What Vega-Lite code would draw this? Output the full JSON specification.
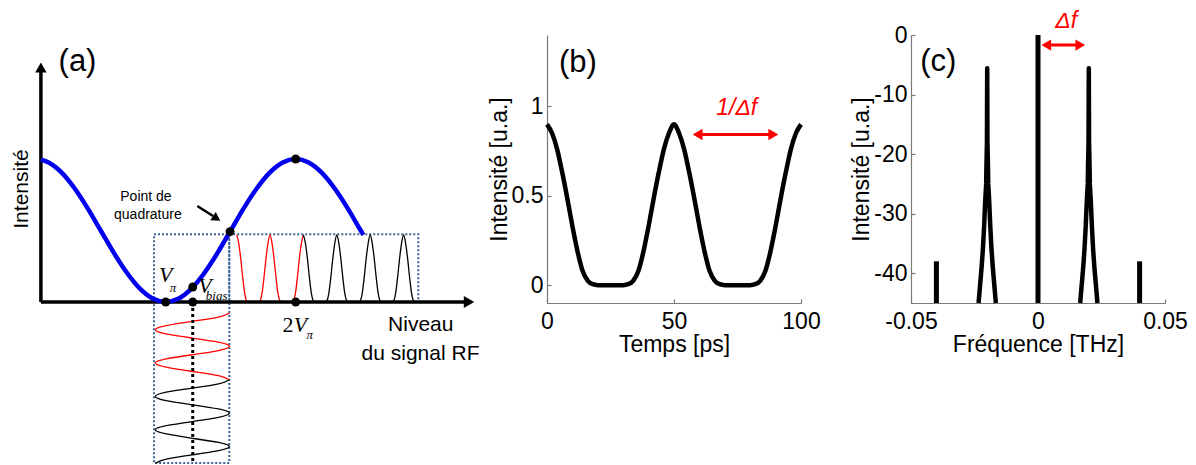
{
  "$schema": "https://vega.github.io/schema/vega-lite/v6.json",
  "autosize": {"type": "none"},
  "padding": {"left": 0, "top": 35, "right": 1196, "bottom": 430},
  "background": "white",
  "config": {
    "view": {"stroke": null},
    "font": "Liberation Sans",
    "axis": {
      "domainColor": "#7a7a7a", "domainWidth": 1.2,
      "tickColor": "#7a7a7a", "tickSize": -4, "tickWidth": 1.2,
      "labelFontSize": 23, "titleFontSize": 23, "titleFontWeight": "normal",
      "labelColor": "black", "titleColor": "black",
      "labelFont": "Liberation Sans", "titleFont": "Liberation Sans",
      "grid": false, "labelFlush": false, "labelOverlap": false
    },
    "axisX": {"labelPadding": 11, "titlePadding": 0},
    "axisY": {"labelPadding": 8, "titlePadding": 0}
  },
  "datasets": {
    "boxesA": [
      {"v": 0.91, "v2": 1.489, "I": -1.126, "I2": 0.473},
      {"v": 1.489, "v2": 2.943, "I": 0, "I2": 0.473}
    ],
    "axesA": [
      {"v": 0.04, "I": 0, "v2": 3.33, "I2": 0},
      {"v": 0.04, "I": 0, "v2": 0.04, "I2": 1.63}
    ],
    "curveA": [
      {"v": 0.04, "I": 0.996}, {"v": 0.1, "I": 0.976}, {"v": 0.2, "I": 0.905}, {"v": 0.3, "I": 0.794},
      {"v": 0.4, "I": 0.655}, {"v": 0.5, "I": 0.5}, {"v": 0.6, "I": 0.345}, {"v": 0.7, "I": 0.206},
      {"v": 0.8, "I": 0.095}, {"v": 0.9, "I": 0.024}, {"v": 1.0, "I": 0}, {"v": 1.1, "I": 0.024},
      {"v": 1.2, "I": 0.095}, {"v": 1.3, "I": 0.206}, {"v": 1.4, "I": 0.345}, {"v": 1.5, "I": 0.5},
      {"v": 1.6, "I": 0.655}, {"v": 1.7, "I": 0.794}, {"v": 1.8, "I": 0.905}, {"v": 1.9, "I": 0.976},
      {"v": 2.0, "I": 1}, {"v": 2.1, "I": 0.976}, {"v": 2.2, "I": 0.905}, {"v": 2.3, "I": 0.794},
      {"v": 2.4, "I": 0.655}, {"v": 2.5, "I": 0.5}, {"v": 2.52, "I": 0.469}
    ],
    "rfA": [
      {"k": 0, "v": 1.49, "I": -0.077, "part": "r"},
      {"k": 1, "v": 1.4065, "I": -0.106, "part": "r"},
      {"k": 2, "v": 1.205, "I": -0.135, "part": "r"},
      {"k": 3, "v": 1.0035, "I": -0.165, "part": "r"},
      {"k": 4, "v": 0.92, "I": -0.194, "part": "r"},
      {"k": 5, "v": 1.0035, "I": -0.223, "part": "r"},
      {"k": 6, "v": 1.205, "I": -0.252, "part": "r"},
      {"k": 7, "v": 1.4065, "I": -0.281, "part": "r"},
      {"k": 8, "v": 1.49, "I": -0.31, "part": "r"},
      {"k": 9, "v": 1.4065, "I": -0.34, "part": "r"},
      {"k": 10, "v": 1.205, "I": -0.369, "part": "r"},
      {"k": 11, "v": 1.0035, "I": -0.398, "part": "r"},
      {"k": 12, "v": 0.92, "I": -0.427, "part": "r"},
      {"k": 13, "v": 1.0035, "I": -0.456, "part": "r"},
      {"k": 14, "v": 1.205, "I": -0.486, "part": "r"},
      {"k": 15, "v": 1.4065, "I": -0.515, "part": "r"},
      {"k": 16, "v": 1.49, "I": -0.544, "part": "r"},
      {"k": 16, "v": 1.49, "I": -0.544, "part": "k"},
      {"k": 17, "v": 1.4065, "I": -0.573, "part": "k"},
      {"k": 18, "v": 1.205, "I": -0.602, "part": "k"},
      {"k": 19, "v": 1.0035, "I": -0.631, "part": "k"},
      {"k": 20, "v": 0.92, "I": -0.661, "part": "k"},
      {"k": 21, "v": 1.0035, "I": -0.69, "part": "k"},
      {"k": 22, "v": 1.205, "I": -0.719, "part": "k"},
      {"k": 23, "v": 1.4065, "I": -0.748, "part": "k"},
      {"k": 24, "v": 1.49, "I": -0.777, "part": "k"},
      {"k": 25, "v": 1.4065, "I": -0.807, "part": "k"},
      {"k": 26, "v": 1.205, "I": -0.836, "part": "k"},
      {"k": 27, "v": 1.0035, "I": -0.865, "part": "k"},
      {"k": 28, "v": 0.92, "I": -0.894, "part": "k"},
      {"k": 29, "v": 1.0035, "I": -0.923, "part": "k"},
      {"k": 30, "v": 1.205, "I": -0.953, "part": "k"},
      {"k": 31, "v": 1.4065, "I": -0.982, "part": "k"},
      {"k": 32, "v": 1.49, "I": -1.011, "part": "k"},
      {"k": 33, "v": 1.4065, "I": -1.04, "part": "k"},
      {"k": 34, "v": 1.205, "I": -1.069, "part": "k"},
      {"k": 35, "v": 1.0035, "I": -1.099, "part": "k"},
      {"k": 36, "v": 0.92, "I": -1.128, "part": "k"}
    ],
    "outA": [
      {"v": 1.5462, "I": 0.469, "part": "r"}, {"v": 1.5616, "I": 0.412, "part": "r"}, {"v": 1.577, "I": 0.305, "part": "r"},
      {"v": 1.5924, "I": 0.172, "part": "r"}, {"v": 1.6077, "I": 0.06, "part": "r"}, {"v": 1.6231, "I": 0.008, "part": "r"},
      {"v": 1.6385, "I": 0, "part": "r"}, {"v": 1.71, "I": 0, "part": "r"}, {"v": 1.7254, "I": 0.008, "part": "r"},
      {"v": 1.7408, "I": 0.06, "part": "r"}, {"v": 1.7561, "I": 0.172, "part": "r"}, {"v": 1.7715, "I": 0.305, "part": "r"},
      {"v": 1.7869, "I": 0.412, "part": "r"}, {"v": 1.8023, "I": 0.469, "part": "r"}, {"v": 1.8177, "I": 0.412, "part": "r"},
      {"v": 1.8331, "I": 0.305, "part": "r"}, {"v": 1.8485, "I": 0.172, "part": "r"}, {"v": 1.8638, "I": 0.06, "part": "r"},
      {"v": 1.8792, "I": 0.008, "part": "r"}, {"v": 1.8946, "I": 0, "part": "r"}, {"v": 1.9669, "I": 0, "part": "r"},
      {"v": 1.9823, "I": 0.008, "part": "r"}, {"v": 1.9977, "I": 0.06, "part": "r"}, {"v": 2.013, "I": 0.172, "part": "r"},
      {"v": 2.0284, "I": 0.305, "part": "r"}, {"v": 2.0438, "I": 0.412, "part": "r"}, {"v": 2.0592, "I": 0.469, "part": "r"},
      {"v": 2.0592, "I": 0.469, "part": "k"}, {"v": 2.0746, "I": 0.412, "part": "k"}, {"v": 2.09, "I": 0.305, "part": "k"},
      {"v": 2.1054, "I": 0.172, "part": "k"}, {"v": 2.1207, "I": 0.06, "part": "k"}, {"v": 2.1361, "I": 0.008, "part": "k"},
      {"v": 2.1515, "I": 0, "part": "k"}, {"v": 2.2239, "I": 0, "part": "k"}, {"v": 2.2393, "I": 0.008, "part": "k"},
      {"v": 2.2547, "I": 0.06, "part": "k"}, {"v": 2.27, "I": 0.172, "part": "k"}, {"v": 2.2854, "I": 0.305, "part": "k"},
      {"v": 2.3008, "I": 0.412, "part": "k"}, {"v": 2.3162, "I": 0.469, "part": "k"}, {"v": 2.3316, "I": 0.412, "part": "k"},
      {"v": 2.347, "I": 0.305, "part": "k"}, {"v": 2.3624, "I": 0.172, "part": "k"}, {"v": 2.3777, "I": 0.06, "part": "k"},
      {"v": 2.3931, "I": 0.008, "part": "k"}, {"v": 2.4085, "I": 0, "part": "k"}, {"v": 2.4808, "I": 0, "part": "k"},
      {"v": 2.4962, "I": 0.008, "part": "k"}, {"v": 2.5116, "I": 0.06, "part": "k"}, {"v": 2.5269, "I": 0.172, "part": "k"},
      {"v": 2.5423, "I": 0.305, "part": "k"}, {"v": 2.5577, "I": 0.412, "part": "k"}, {"v": 2.5731, "I": 0.469, "part": "k"},
      {"v": 2.5885, "I": 0.412, "part": "k"}, {"v": 2.6039, "I": 0.305, "part": "k"}, {"v": 2.6193, "I": 0.172, "part": "k"},
      {"v": 2.6346, "I": 0.06, "part": "k"}, {"v": 2.65, "I": 0.008, "part": "k"}, {"v": 2.6654, "I": 0, "part": "k"},
      {"v": 2.7377, "I": 0, "part": "k"}, {"v": 2.7531, "I": 0.008, "part": "k"}, {"v": 2.7685, "I": 0.06, "part": "k"},
      {"v": 2.7838, "I": 0.172, "part": "k"}, {"v": 2.7992, "I": 0.305, "part": "k"}, {"v": 2.8146, "I": 0.412, "part": "k"},
      {"v": 2.83, "I": 0.469, "part": "k"}, {"v": 2.8454, "I": 0.412, "part": "k"}, {"v": 2.8608, "I": 0.305, "part": "k"},
      {"v": 2.8762, "I": 0.172, "part": "k"}, {"v": 2.8915, "I": 0.06, "part": "k"}, {"v": 2.9069, "I": 0.008, "part": "k"},
      {"v": 2.9223, "I": 0, "part": "k"}
    ],
    "dotsA": [
      {"v": 2, "I": 1}, {"v": 1, "I": 0}, {"v": 1.208, "I": 0.105},
      {"v": 1.208, "I": 0}, {"v": 1.495, "I": 0.492}, {"v": 2, "I": 0}
    ],
    "textA": [
      {"v": 0.3215, "I": 1.675, "txt": "(a)", "kind": "panel"},
      {"v": -0.105, "I": 0.79, "txt": "Intensité", "kind": "ylab"},
      {"v": 0.848, "I": 0.731, "txt": "Point de", "kind": "small"},
      {"v": 0.863, "I": 0.605, "txt": "quadrature", "kind": "small"},
      {"v": 2.962, "I": -0.161, "txt": "Niveau", "kind": "sans"},
      {"v": 2.96, "I": -0.364, "txt": "du signal RF", "kind": "sans"},
      {"v": 1.001, "I": 0.19, "txt": "V", "kind": "serifV"},
      {"v": 1.302, "I": 0.112, "txt": "V", "kind": "serifV"},
      {"v": 2.037, "I": -0.161, "txt": "V", "kind": "serifV"},
      {"v": 1.941, "I": -0.161, "txt": "2", "kind": "serif2"},
      {"v": 1.056, "I": 0.1, "txt": "π", "kind": "sub"},
      {"v": 1.392, "I": 0.04, "txt": "bias", "kind": "sub"},
      {"v": 2.108, "I": -0.232, "txt": "π", "kind": "sub"}
    ],
    "timeB": [
      {"t": 0, "y": 0.9}, {"t": 2, "y": 0.85}, {"t": 4, "y": 0.76}, {"t": 6, "y": 0.63}, {"t": 8, "y": 0.485},
      {"t": 10, "y": 0.33}, {"t": 12, "y": 0.19}, {"t": 14, "y": 0.08}, {"t": 16, "y": 0.025}, {"t": 18, "y": 0.005},
      {"t": 20, "y": 0}, {"t": 22, "y": 0}, {"t": 24, "y": 0}, {"t": 26, "y": 0}, {"t": 28, "y": 0},
      {"t": 30, "y": 0}, {"t": 32, "y": 0.005}, {"t": 34, "y": 0.025}, {"t": 36, "y": 0.08}, {"t": 38, "y": 0.19},
      {"t": 40, "y": 0.33}, {"t": 42, "y": 0.485}, {"t": 44, "y": 0.63}, {"t": 46, "y": 0.76}, {"t": 48, "y": 0.85},
      {"t": 50, "y": 0.9}, {"t": 52, "y": 0.85}, {"t": 54, "y": 0.76}, {"t": 56, "y": 0.63}, {"t": 58, "y": 0.485},
      {"t": 60, "y": 0.33}, {"t": 62, "y": 0.19}, {"t": 64, "y": 0.08}, {"t": 66, "y": 0.025}, {"t": 68, "y": 0.005},
      {"t": 70, "y": 0}, {"t": 72, "y": 0}, {"t": 74, "y": 0}, {"t": 76, "y": 0}, {"t": 78, "y": 0},
      {"t": 80, "y": 0}, {"t": 82, "y": 0.005}, {"t": 84, "y": 0.025}, {"t": 86, "y": 0.08}, {"t": 88, "y": 0.19},
      {"t": 90, "y": 0.33}, {"t": 92, "y": 0.485}, {"t": 94, "y": 0.63}, {"t": 96, "y": 0.76}, {"t": 98, "y": 0.85},
      {"t": 100, "y": 0.9}
    ],
    "spikeC": [
      {"f": 0, "dB": 0}, {"f": -0.04, "dB": -38}, {"f": 0.04, "dB": -38}
    ],
    "skirtC": [
      {"k": 0, "f": -0.0234, "dB": -45, "peak": "L"}, {"k": 1, "f": -0.0228, "dB": -42, "peak": "L"},
      {"k": 2, "f": -0.0222, "dB": -39, "peak": "L"}, {"k": 3, "f": -0.0217, "dB": -36, "peak": "L"},
      {"k": 4, "f": -0.0212, "dB": -32, "peak": "L"}, {"k": 5, "f": -0.0208, "dB": -28, "peak": "L"},
      {"k": 6, "f": -0.0204, "dB": -25, "peak": "L"}, {"k": 7, "f": -0.0203, "dB": -22, "peak": "L"},
      {"k": 8, "f": -0.0201, "dB": -18, "peak": "L"}, {"k": 9, "f": -0.02, "dB": -5.6, "peak": "L"},
      {"k": 10, "f": -0.0199, "dB": -18, "peak": "L"}, {"k": 11, "f": -0.0197, "dB": -22, "peak": "L"},
      {"k": 12, "f": -0.0196, "dB": -25, "peak": "L"}, {"k": 13, "f": -0.0192, "dB": -28, "peak": "L"},
      {"k": 14, "f": -0.0188, "dB": -32, "peak": "L"}, {"k": 15, "f": -0.0183, "dB": -36, "peak": "L"},
      {"k": 16, "f": -0.0178, "dB": -39, "peak": "L"}, {"k": 17, "f": -0.0172, "dB": -42, "peak": "L"},
      {"k": 18, "f": -0.0166, "dB": -45, "peak": "L"},
      {"k": 0, "f": 0.0166, "dB": -45, "peak": "R"}, {"k": 1, "f": 0.0172, "dB": -42, "peak": "R"},
      {"k": 2, "f": 0.0178, "dB": -39, "peak": "R"}, {"k": 3, "f": 0.0183, "dB": -36, "peak": "R"},
      {"k": 4, "f": 0.0188, "dB": -32, "peak": "R"}, {"k": 5, "f": 0.0192, "dB": -28, "peak": "R"},
      {"k": 6, "f": 0.0196, "dB": -25, "peak": "R"}, {"k": 7, "f": 0.0197, "dB": -22, "peak": "R"},
      {"k": 8, "f": 0.0199, "dB": -18, "peak": "R"}, {"k": 9, "f": 0.02, "dB": -5.6, "peak": "R"},
      {"k": 10, "f": 0.0201, "dB": -18, "peak": "R"}, {"k": 11, "f": 0.0203, "dB": -22, "peak": "R"},
      {"k": 12, "f": 0.0204, "dB": -25, "peak": "R"}, {"k": 13, "f": 0.0208, "dB": -28, "peak": "R"},
      {"k": 14, "f": 0.0212, "dB": -32, "peak": "R"}, {"k": 15, "f": 0.0217, "dB": -36, "peak": "R"},
      {"k": 16, "f": 0.0222, "dB": -39, "peak": "R"}, {"k": 17, "f": 0.0228, "dB": -42, "peak": "R"},
      {"k": 18, "f": 0.0234, "dB": -45, "peak": "R"}
    ]
  },
  "bounds": "flush",
  "spacing": 110,
  "hconcat": [
    {
      "width": 437,
      "height": 430,
      "encoding": {
        "x": {"field": "v", "type": "quantitative", "scale": {"domain": [-0.2746, 3.0869], "nice": false, "zero": false}, "axis": null},
        "y": {"field": "I", "type": "quantitative", "scale": {"domain": [-1.1399, 1.8671], "nice": false, "zero": false}, "axis": null}
      },
      "layer": [
        {"data": {"name": "boxesA"}, "mark": {"type": "rect", "filled": false, "color": "#3d6494", "strokeWidth": 2, "strokeDash": [2, 2]},
         "encoding": {"x2": {"field": "v2"}, "y2": {"field": "I2"}}},
        {"data": {"name": "outA"}, "mark": {"type": "line", "strokeWidth": 1.3, "interpolate": "monotone"},
         "encoding": {"color": {"field": "part", "type": "nominal", "scale": {"domain": ["r", "k"], "range": ["#ff0000", "#000000"]}, "legend": null}}},
        {"data": {"name": "rfA"}, "mark": {"type": "line", "strokeWidth": 1.3, "interpolate": "natural"},
         "encoding": {"order": {"field": "k", "type": "quantitative"}, "color": {"field": "part", "type": "nominal", "scale": {"domain": ["r", "k"], "range": ["#ff0000", "#000000"]}, "legend": null}}},
        {"data": {"values": [{"v": 1.208, "I": 0, "I2": -1.126}]}, "mark": {"type": "rule", "color": "black", "strokeWidth": 3, "strokeDash": [3, 3]},
         "encoding": {"y2": {"field": "I2"}}},
        {"data": {"name": "axesA"}, "mark": {"type": "rule", "color": "black", "strokeWidth": 3.5},
         "encoding": {"x2": {"field": "v2"}, "y2": {"field": "I2"}}},
        {"data": {"values": [{"v": 3.333, "I": 0}]}, "mark": {"type": "point", "shape": "triangle-right", "filled": true, "color": "black", "opacity": 1, "size": 144}},
        {"data": {"values": [{"v": 0.04, "I": 1.64}]}, "mark": {"type": "point", "shape": "triangle-up", "filled": true, "color": "black", "opacity": 1, "size": 130}},
        {"data": {"name": "curveA"}, "mark": {"type": "line", "color": "#0000ee", "strokeWidth": 4.5, "interpolate": "monotone"}},
        {"data": {"values": [{"v": 1.243, "I": 0.671, "v2": 1.364, "I2": 0.601}]}, "mark": {"type": "rule", "color": "black", "strokeWidth": 2.5},
         "encoding": {"x2": {"field": "v2"}, "y2": {"field": "I2"}}},
        {"data": {"values": [{"v": 1.392, "I": 0.584}]}, "mark": {"type": "point", "shape": "triangle-right", "angle": 33, "filled": true, "color": "black", "opacity": 1, "size": 100}},
        {"data": {"name": "dotsA"}, "mark": {"type": "point", "shape": "circle", "filled": true, "color": "black", "opacity": 1, "size": 80}},
        {"data": {"name": "textA"}, "transform": [{"filter": "datum.kind == 'panel'"}],
         "mark": {"type": "text", "font": "Liberation Sans", "fontSize": 31, "color": "black", "align": "center", "baseline": "middle"},
         "encoding": {"text": {"field": "txt"}}},
        {"data": {"name": "textA"}, "transform": [{"filter": "datum.kind == 'ylab'"}],
         "mark": {"type": "text", "font": "Liberation Sans", "fontSize": 21, "color": "black", "align": "center", "baseline": "middle", "angle": 270},
         "encoding": {"text": {"field": "txt"}}},
        {"data": {"name": "textA"}, "transform": [{"filter": "datum.kind == 'small'"}],
         "mark": {"type": "text", "font": "Liberation Sans", "fontSize": 14, "color": "black", "align": "center", "baseline": "middle"},
         "encoding": {"text": {"field": "txt"}}},
        {"data": {"name": "textA"}, "transform": [{"filter": "datum.kind == 'sans'"}],
         "mark": {"type": "text", "font": "Liberation Sans", "fontSize": 21, "color": "black", "align": "center", "baseline": "middle"},
         "encoding": {"text": {"field": "txt"}}},
        {"data": {"name": "textA"}, "transform": [{"filter": "datum.kind == 'serifV'"}],
         "mark": {"type": "text", "font": "Liberation Serif", "fontStyle": "italic", "fontSize": 22, "color": "black", "align": "center", "baseline": "middle"},
         "encoding": {"text": {"field": "txt"}}},
        {"data": {"name": "textA"}, "transform": [{"filter": "datum.kind == 'serif2'"}],
         "mark": {"type": "text", "font": "Liberation Serif", "fontSize": 22, "color": "black", "align": "center", "baseline": "middle"},
         "encoding": {"text": {"field": "txt"}}},
        {"data": {"name": "textA"}, "transform": [{"filter": "datum.kind == 'sub'"}],
         "mark": {"type": "text", "font": "Liberation Serif", "fontStyle": "italic", "fontSize": 13, "color": "black", "align": "center", "baseline": "middle"},
         "encoding": {"text": {"field": "txt"}}}
      ]
    },
    {
      "width": 254,
      "height": 268,
      "encoding": {
        "x": {"field": "t", "type": "quantitative", "scale": {"domain": [0, 100], "nice": false, "zero": false},
              "axis": {"values": [0, 50, 100], "title": "Temps [ps]", "labelExpr": "toString(datum.value)"}},
        "y": {"field": "y", "type": "quantitative", "scale": {"domain": [-0.1, 1.4], "nice": false, "zero": false},
              "axis": {"values": [0, 0.5, 1], "title": "Intensité [u.a.]", "labelExpr": "toString(datum.value)"}}
      },
      "layer": [
        {"data": {"name": "timeB"}, "mark": {"type": "line", "color": "black", "strokeWidth": 4.5, "interpolate": "monotone", "strokeJoin": "round"}},
        {"data": {"values": [{"t": 59.3, "t2": 89.1, "y": 0.843}]}, "mark": {"type": "rule", "color": "#ff0000", "strokeWidth": 3},
         "encoding": {"x2": {"field": "t2"}}},
        {"data": {"values": [{"t": 59.3, "y": 0.843}]}, "mark": {"type": "point", "shape": "triangle-left", "filled": true, "color": "#ff0000", "opacity": 1, "size": 130}},
        {"data": {"values": [{"t": 89.1, "y": 0.843}]}, "mark": {"type": "point", "shape": "triangle-right", "filled": true, "color": "#ff0000", "opacity": 1, "size": 130}},
        {"data": {"values": [{"t": 74.7, "y": 0.99, "txt": "1/Δf"}]}, "mark": {"type": "text", "font": "Liberation Sans", "fontStyle": "italic", "fontSize": 23, "color": "#ff0000", "align": "center", "baseline": "middle"},
         "encoding": {"text": {"field": "txt"}}},
        {"data": {"values": [{"t": 12.2, "y": 1.246, "txt": "(b)"}]}, "mark": {"type": "text", "font": "Liberation Sans", "fontSize": 31, "color": "black", "align": "center", "baseline": "middle"},
         "encoding": {"text": {"field": "txt"}}}
      ]
    },
    {
      "width": 254,
      "height": 268,
      "encoding": {
        "x": {"field": "f", "type": "quantitative", "scale": {"domain": [-0.05, 0.05], "nice": false, "zero": false},
              "axis": {"values": [-0.05, 0, 0.05], "title": "Fréquence [THz]", "labelExpr": "toString(datum.value)"}},
        "y": {"field": "dB", "type": "quantitative", "scale": {"domain": [-45, 0], "nice": false, "zero": false},
              "axis": {"values": [0, -10, -20, -30, -40], "title": "Intensité [u.a.]", "labelExpr": "toString(datum.value)"}}
      },
      "layer": [
        {"data": {"name": "spikeC"}, "mark": {"type": "rule", "color": "black", "strokeWidth": 5},
         "encoding": {"y2": {"datum": -45}}},
        {"data": {"name": "skirtC"}, "mark": {"type": "line", "color": "black", "strokeWidth": 4.5, "strokeJoin": "round"},
         "encoding": {"order": {"field": "k", "type": "quantitative"}, "detail": {"field": "peak", "type": "nominal"}}},
        {"data": {"values": [{"f": 0.00327, "f2": 0.01665, "dB": -1.7}]}, "mark": {"type": "rule", "color": "#ff0000", "strokeWidth": 3},
         "encoding": {"x2": {"field": "f2"}}},
        {"data": {"values": [{"f": 0.00327, "dB": -1.7}]}, "mark": {"type": "point", "shape": "triangle-left", "filled": true, "color": "#ff0000", "opacity": 1, "size": 125}},
        {"data": {"values": [{"f": 0.01665, "dB": -1.7}]}, "mark": {"type": "point", "shape": "triangle-right", "filled": true, "color": "#ff0000", "opacity": 1, "size": 125}},
        {"data": {"values": [{"f": 0.0111, "dB": 2.3, "txt": "Δf"}]}, "mark": {"type": "text", "font": "Liberation Sans", "fontStyle": "italic", "fontSize": 23, "color": "#ff0000", "align": "center", "baseline": "middle"},
         "encoding": {"text": {"field": "txt"}}},
        {"data": {"values": [{"f": -0.03925, "dB": -4.53, "txt": "(c)"}]}, "mark": {"type": "text", "font": "Liberation Sans", "fontSize": 31, "color": "black", "align": "center", "baseline": "middle"},
         "encoding": {"text": {"field": "txt"}}}
      ]
    }
  ]
}
